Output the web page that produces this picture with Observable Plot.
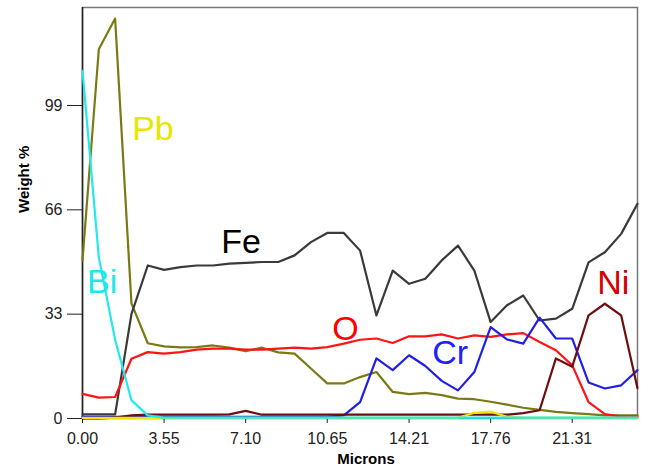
<!DOCTYPE html>
<html>
<head>
<meta charset="utf-8">
<script src="https://cdn.jsdelivr.net/npm/d3@7"></script>
<script src="https://cdn.jsdelivr.net/npm/@observablehq/plot@0.6"></script>
<style>
  html, body { margin: 0; padding: 0; background: #fff; }
  #chart { width: 649px; height: 475px; }
</style>
</head>
<body>
<div id="chart"></div>
<script>
// Sample positions along the line scan (microns)
const microns = [0.00, 0.71, 1.42, 2.13, 2.84, 3.55, 4.26, 4.97, 5.68, 6.39,
  7.10, 7.81, 8.52, 9.23, 9.94, 10.65, 11.37, 12.08, 12.79, 13.50,
  14.21, 14.92, 15.63, 16.34, 17.05, 17.76, 18.47, 19.18, 19.89, 20.60,
  21.31, 22.02, 22.73, 23.44, 24.15];

// Weight % per element
const fe = [1.3, 1.3, 1.3, 33, 48.4, 47.0, 47.9, 48.4, 48.4, 49.0,
  49.2, 49.5, 49.5, 51.6, 55.8, 58.7, 58.7, 53.1, 32.6, 46.8,
  42.6, 44.2, 50.0, 54.7, 46.8, 30.5, 35.8, 38.9, 31.0, 31.6,
  34.7, 49.4, 52.6, 58.4, 67.9];
const pb = [50, 116.8, 126.5, 36.4, 23.8, 22.8, 22.5, 22.6, 23.1, 22.4,
  21.3, 22.4, 20.9, 20.5, 15.8, 11.1, 11.1, 13.1, 14.7, 8.4,
  7.7, 8.1, 7.4, 6.3, 6.1, 5.3, 4.4, 3.4, 2.7, 2.1,
  1.7, 1.4, 1.0, 1.0, 1.0];
const o = [7.8, 6.6, 6.8, 18.9, 21.0, 20.5, 21.0, 21.8, 22.1, 22.1,
  21.8, 21.8, 22.1, 22.4, 22.1, 22.6, 23.7, 24.9, 25.3, 23.9,
  26.0, 26.0, 26.6, 25.3, 26.3, 25.8, 26.6, 27.0, 24.2, 21.6,
  16.8, 5.2, 1.4, 0.6, 0.6];
const cr = [0.5, 0.5, 0.5, 0.5, 0.5, 0.5, 0.5, 0.5, 0.5, 0.5,
  0.5, 0.5, 0.5, 0.5, 0.5, 0.5, 1.0, 5.2, 19.0, 15.3,
  20.0, 16.6, 11.9, 8.9, 14.7, 28.9, 25.0, 23.7, 31.9, 25.3,
  25.3, 11.4, 9.5, 10.5, 15.3];
const ni = [0, 0, 0.3, 1.0, 1.2, 1.2, 1.2, 1.2, 1.2, 1.3,
  2.4, 1.2, 1.2, 1.2, 1.2, 1.2, 1.2, 1.2, 1.2, 1.2,
  1.2, 1.2, 1.2, 1.2, 1.2, 1.2, 1.2, 1.7, 2.6, 19.0,
  16.4, 32.6, 36.3, 32.6, 9.6];
const bi = [110, 51, 24.9, 5.8, 1.0, 0.3, 0.3, 0.3, 0.3, 0.3,
  0.3, 0.3, 0.3, 0.3, 0.3, 0.3, 0.3, 0.3, 0.3, 0.3,
  0.3, 0.3, 0.3, 0.3, 0.3, 0.3, 0.3, 0.3, 0.3, 0.3,
  0.3, 0.3, 0.3, 0.3, 0.3];
const minorYellow = [0.2, 0.2, 0.2, 0.2, 0.2, 0.2, 0.2, 0.2, 0.2, 0.2,
  0.2, 0.2, 0.2, 0.2, 0.2, 0.2, 0.2, 0.2, 0.2, 0.2,
  0.2, 0.2, 0.2, 0.2, 1.8, 2.2, 0.5, 0.2, 0.2, 0.2,
  0.2, 0.2, 0.2, 0.2, 0.2];

// Axis ticks
const xTicks = [0.00, 3.55, 7.10, 10.65, 14.21, 17.76, 21.31];
const yTicks = [0, 33, 66, 99];

// Element labels (anchored in data units)
const labelNames = ["Pb", "Fe", "O", "Cr", "Ni", "Bi"];
const labelX = [2.16, 6.04, 10.87, 15.22, 22.4, 0.2];
const labelY = [91.5, 55.7, 28.2, 20.8, 42.9, 43.2];

const series = [
  {name: "Pb", values: pb, color: "#7a7a14"},
  {name: "Fe", values: fe, color: "#3a3a3a"},
  {name: "O", values: o, color: "#ff1414"},
  {name: "Cr", values: cr, color: "#1f1fe6"},
  {name: "Ni", values: ni, color: "#6e0f0f"},
  {name: "minor", values: minorYellow, color: "#f0e400"},
  {name: "Bi", values: bi, color: "#22e8f0"}
];
const labelColors = {Pb: "#e6e600", Fe: "#000000", O: "#ff0000", Cr: "#2020ff", Ni: "#d40000", Bi: "#22e6ee"};

const labels = labelNames.map((n, i) => ({name: n, x: labelX[i], y: labelY[i]}));

const lineMarks = series.map(s =>
  Plot.line(microns.map((m, i) => ({x: m, y: s.values[i]})), {
    x: "x", y: "y", stroke: s.color, strokeWidth: 2.2, strokeLinejoin: "round"
  })
);

const chart = Plot.plot({
  width: 649,
  height: 475,
  marginLeft: 82,
  marginRight: 12,
  marginTop: 7,
  marginBottom: 57,
  x: {domain: [0, 24.15]},
  y: {domain: [0, 130]},
  style: {fontFamily: "'Liberation Sans', Arial, sans-serif", fontSize: "16px", color: "#222", background: "#fff"},
  marks: [
    Plot.frame({stroke: "#777", strokeWidth: 1.5}),
    Plot.axisY({ticks: yTicks, tickSize: 15, tickPadding: 5, label: null, fontSize: 16}),
    Plot.axisX({ticks: xTicks, tickSize: 5, tickPadding: 9, tickFormat: d => d.toFixed(2), label: null, fontSize: 16}),
    Plot.ruleX([0], {stroke: "#222", strokeWidth: 1.5}),
    ...lineMarks,
    Plot.text(labels, {
      x: "x", y: "y", text: "name", textAnchor: "start", lineAnchor: "middle",
      fill: d => labelColors[d.name], fontSize: 34
    }),
    Plot.text(["Weight %"], {frameAnchor: "left", dx: -58, rotate: -90, fontWeight: "bold", fontSize: 15, fill: "#000"}),
    Plot.text(["Microns"], {frameAnchor: "bottom", dy: 45, dx: 6, fontWeight: "bold", fontSize: 15, fill: "#000"})
  ]
});
document.getElementById("chart").appendChild(chart);
</script>
</body>
</html>
